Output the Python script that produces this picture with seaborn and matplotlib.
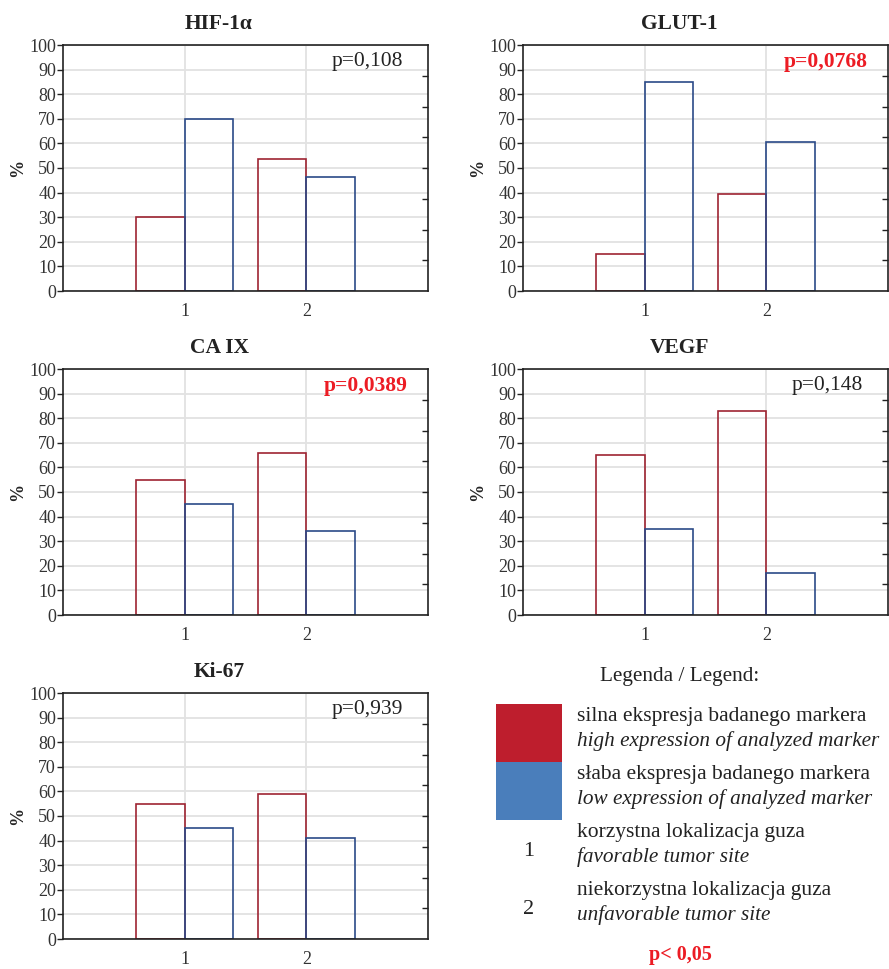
import matplotlib
matplotlib.use("Agg")
import matplotlib.pyplot as plt
import seaborn as sns
import numpy as np
import pandas as pd
from matplotlib.patches import Rectangle

sns.set_theme(style="whitegrid")
plt.rcParams['font.family'] = ['Liberation Serif', 'DejaVu Serif']

# dane
markers = ['HIF-1α', 'GLUT-1', 'CA IX', 'VEGF', 'Ki-67']
p_values = ['p=0,108', 'p=0,0768', 'p=0,0389', 'p=0,148', 'p=0,939']
p_signif = [False, True, True, False, False]
sites = [1, 1, 2, 2]
expr = ['silna', 'słaba', 'silna', 'słaba']
hif = [30, 70, 53.5, 46.5]
glut = [15, 85, 39.5, 60.5]
caix = [55, 45, 66, 34]
vegf = [65, 35, 83, 17]
ki67 = [55, 45, 59, 41]
values = [hif, glut, caix, vegf, ki67]

red_edge = '#9e2432'
blue_edge = '#2b4a88'
red_fill = '#be1e2d'
blue_fill = '#4a7ebb'

fig = plt.figure(figsize=(8.89, 9.69), dpi=100)
W, H = 889, 969

# pozycje paneli w pikselach: (lewo, góra)
boxes = [(63, 45), (523, 45), (63, 369), (523, 369), (63, 693)]
aw, ah = 365, 246


def fx(x):
    return x / W


def fy(y):
    return 1 - y / H


for i, name in enumerate(markers):
    l, t = boxes[i]
    ax = fig.add_axes([l / W, 1 - (t + ah) / H, aw / W, ah / H])
    df = pd.DataFrame({'site': sites, 'expr': expr, 'pct': values[i]})
    sns.barplot(data=df, x='site', y='pct', hue='expr', native_scale=True,
                palette={'silna': red_edge, 'słaba': blue_edge}, fill=False,
                width=0.8, linewidth=1.2, errorbar=None, legend=False, ax=ax)
    ax.set_xlim(0, 3)
    ax.set_ylim(0, 100)
    ax.set_xticks([1, 2])
    ax.set_xticklabels(['1', '2'])
    ax.set_yticks(np.arange(0, 101, 10))
    ax.grid(True, color='#e2e2e2', linewidth=1.3)
    ax.set_axisbelow(True)
    for s in ax.spines.values():
        s.set_visible(True)
        s.set_color('#222222')
        s.set_linewidth(1.2)
        s.set_zorder(5)
    ax.tick_params(axis='y', left=True, length=4, width=1, color='#222222',
                   labelsize=13, labelcolor='#333333', pad=1)
    ax.tick_params(axis='x', bottom=False, labelsize=13, labelcolor='#333333', pad=3)
    ax.set_xlabel('')
    ax.set_ylabel('%', fontsize=13, fontweight='bold', labelpad=2)

    # tytuł wyśrodkowany nad całą komórką
    fig.text(fx(l + 156), fy(t - 21), name, ha='center', va='center',
             fontsize=15.5, fontweight='bold', color='#222222')

    # drobne znaczniki po prawej
    tw = ax.twinx()
    tw.set_ylim(0, 100)
    tw.set_yticks(np.arange(12.5, 100, 12.5))
    tw.tick_params(axis='y', right=True, direction='in', length=4, width=1,
                   color='#222222', labelright=False)
    tw.grid(False)
    for s in tw.spines.values():
        s.set_visible(False)

    if p_signif[i]:
        ax.text(0.945, 0.97, p_values[i], transform=ax.transAxes, ha='right', va='top',
                fontsize=15.5, fontweight='bold', color='#ec1c24')
    else:
        ax.text(0.932, 0.97, p_values[i], transform=ax.transAxes, ha='right', va='top',
                fontsize=15.5, color='#222222')

# legenda
fig.text(fx(680), fy(677), 'Legenda / Legend:', ha='center', va='center',
         fontsize=15.3, color='#222222')
fig.patches.append(Rectangle((fx(496), fy(762)), fx(66), 58 / H, transform=fig.transFigure,
                             facecolor=red_fill, edgecolor='none'))
fig.patches.append(Rectangle((fx(496), fy(820)), fx(66), 58 / H, transform=fig.transFigure,
                             facecolor=blue_fill, edgecolor='none'))

legend_rows = [
    ('silna ekspresja badanego markera', 'high expression of analyzed marker', 716),
    ('słaba ekspresja badanego markera', 'low expression of analyzed marker', 774),
    ('korzystna lokalizacja guza', 'favorable tumor site', 832),
    ('niekorzystna lokalizacja guza', 'unfavorable tumor site', 890),
]
for pl, en, y in legend_rows:
    fig.text(fx(577), fy(y), pl, ha='left', va='center', fontsize=15.5, color='#222222')
    fig.text(fx(577), fy(y + 25), en, ha='left', va='center', fontsize=15.3,
             style='italic', color='#222222')

fig.text(fx(529), fy(851), '1', ha='center', va='center', fontsize=16, color='#222222')
fig.text(fx(529), fy(909), '2', ha='center', va='center', fontsize=16, color='#222222')
fig.text(fx(680), fy(955), 'p< 0,05', ha='center', va='center', fontsize=14.5,
         fontweight='bold', color='#ec1c24')

plt.savefig('out.png', dpi=100)
plt.close()
